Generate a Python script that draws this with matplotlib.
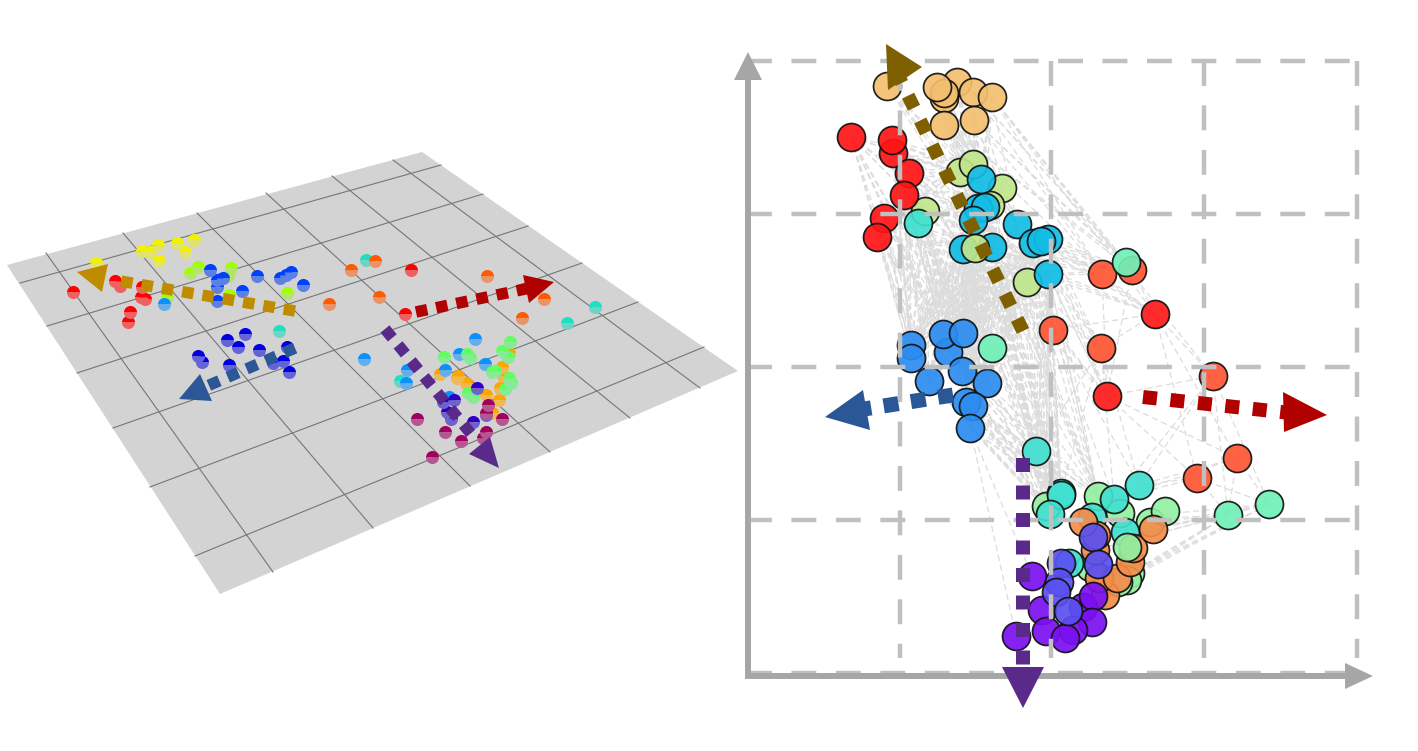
import itertools
import matplotlib
matplotlib.use('Agg')
import matplotlib.pyplot as plt
from matplotlib.patches import Polygon

# left panel, projected points (pixel positions)
l_red = [(73,292),(115,281),(120,286),(142,287),(141,297),(145,299),(130,312),(128,322),(411,270),(405,314)]
l_yellow = [(96,263),(142,251),(150,252),(158,245),(177,243),(194,240),(185,252),(159,261)]
l_lime = [(190,273),(198,267),(231,268),(228,276),(167,297),(229,295),(287,293)]
l_blue = [(210,270),(217,280),(223,278),(217,287),(257,276),(280,278),(286,275),(291,272),(242,291),(303,285),(217,301)]
l_sky = [(164,304),(364,359),(475,339),(459,354),(485,364),(445,370),(407,370),(406,383),(449,397)]
l_navy = [(227,340),(245,334),(238,347),(259,350),(287,347),(198,356),(202,362),(229,365),(273,363),(283,361),(289,372)]
l_teal = [(279,331),(366,260),(595,307),(567,323),(400,381)]
l_vermilion = [(351,270),(375,261),(379,297),(487,276),(544,299),(522,318),(329,304)]
l_green = [(444,357),(467,354),(470,358),(510,342),(502,351),(508,357),(492,372),(495,371),(509,378),(511,383),(505,389),(468,393),(473,397)]
l_orange = [(440,374),(458,376),(457,378),(466,383),(502,367),(509,353),(503,376),(500,388),(486,395),(499,400),(492,413)]
l_indigo = [(477,388),(454,400),(443,402),(447,412),(451,419),(473,422),(486,415)]
l_maroon = [(417,419),(445,432),(461,441),(432,457),(488,405),(486,413),(502,419),(486,432),(483,438)]

# right panel, embedded points
r_sand = [(887,86),(957,82),(973,92),(992,97),(944,98),(944,93),(937,87),(944,125),(974,120)]
r_red = [(851,137),(893,153),(892,140),(909,173),(904,195),(884,218),(877,237)]
r_pale = [(960,172),(973,164),(1002,188),(925,211),(990,205),(1027,282)]
r_cyan = [(981,179),(978,208),(985,207),(973,220),(1017,224),(1033,243),(1048,239),(1041,241),(963,249),(992,247),(1048,274)]
r_pale_top = [(975,248)]
r_coral = [(1102,274),(1132,270),(1053,330),(1101,348),(1213,376),(1237,458),(1197,478)]
r_scarlet = [(1155,314),(1107,396)]
r_mint = [(1126,262),(992,348),(1228,515),(1269,504)]
r_blue = [(911,345),(911,358),(948,352),(943,334),(963,333),(962,371),(929,381),(987,383),(966,402),(973,406),(970,428)]
r_teal = [(1036,451),(1061,493),(1061,495),(1092,517),(1125,532),(1050,514),(1139,485),(1114,499),(1069,563)]
r_green = [(1046,506),(1098,496),(1120,513),(1150,522),(1165,511),(1090,567),(1130,573),(1127,580),(1118,582)]
r_orange = [(1105,595),(1099,578),(1117,578),(1130,562),(1133,548),(1095,550),(1096,535),(1083,522),(1153,529)]
r_green_top = [(1127,547)]
r_indigo = [(1061,563),(1059,582),(1056,592),(1093,537),(1098,564)]
r_purple = [(1032,576),(1083,607),(1093,596),(1042,610),(1092,622),(1046,631),(1073,630),(1065,638),(1016,636)]
r_indigo_top = [(1068,611)]

link_groups = [(r_sand[2:4] + r_sand[7:], r_mint[:1] + r_coral[:2]),
               (r_sand[3:4], r_coral[4:5] + r_scarlet[:1]),
               (r_sand, r_cyan[:5]),
               (r_red, r_blue[:5]),
               (r_red, r_pale[:4]),
               (r_red, r_cyan[8:] + r_blue[5:8]),
               (r_pale, r_blue),
               (r_cyan, r_blue),
               (r_cyan[5:], r_coral[:4] + r_scarlet),
               (r_coral[:4], r_scarlet),
               (r_scarlet, r_coral[4:]),
               (r_coral[2:4], r_teal[:2] + r_teal[6:8]),
               (r_blue[5:], r_teal[:3] + r_teal[5:6] + r_green[:2]),
               (r_cyan, r_teal[:3] + r_teal[5:6] + r_green[:2]),
               (r_blue[-1:], r_purple[-1:] + r_purple[:1]),
               (r_coral[4:], r_teal[6:8] + r_mint[2:]),
               (r_mint[2:], r_orange[5:] + r_green[6:]),
               (r_mint[1:2], r_teal[:3] + r_green[:2])]

plane_xs = [7, 422, 738, 220]
plane_ys = [265, 152, 371, 594]
plane_lines_a = [((20,283),(441,165)), ((47,326),(483,194)), ((77,373),(528,226)),
                 ((113,428),(582,263)), ((150,487),(638,302)), ((195,556),(704,347))]
plane_lines_b = [((46,253),(273,572)), ((123,233),(373,528)), ((197,213),(470,486)),
                 ((266,193),(550,452)), ((332,176),(630,418)), ((393,160),(700,388))]

grid_ys = [61, 214, 367, 520, 673]
grid_xs = [900, 1051, 1204, 1357]
grid_starts = [66, 61, 61, 61]


def dotted_arrow(ax, xs, ys, head, color, width=11.5, period=20.6):
    gap = (period - width) / width
    ax.plot(xs, ys, color=color, lw=width*0.72, dash_capstyle='butt',
            linestyle=(0, (1, gap)), zorder=8)
    ax.add_patch(Polygon(head, closed=True, fc=color, ec='none', zorder=9))


def balls(ax, pts, color, alt):
    xs, ys = zip(*pts)
    ax.plot(xs, ys, ls='none', marker='o', ms=9.4, mew=0, fillstyle='top', color=color,
            markerfacecoloralt=alt, zorder=4)


def discs(ax, pts, color, z=5):
    xs, ys = zip(*pts)
    ax.scatter(xs, ys, s=405, c=color, alpha=0.92, edgecolors='#101010', linewidths=1.25, zorder=z)


fig = plt.figure(figsize=(14.18, 7.51), dpi=100)
ax = fig.add_axes([0, 0, 1, 1])
ax.set_xlim(0, 1418)
ax.set_ylim(751, 0)
ax.axis('off')

# left panel
ax.fill(plane_xs, plane_ys, color='#d3d3d3', lw=0, zorder=1)
for p, q in plane_lines_a + plane_lines_b:
    ax.plot([p[0], q[0]], [p[1], q[1]], color='#767676', lw=0.8, zorder=2)

balls(ax, l_red, '#ff0000', '#f06060')
balls(ax, l_yellow, '#f2f200', '#e2e270')
balls(ax, l_lime, '#a0ff00', '#b4e470')
balls(ax, l_blue, '#0040ff', '#5c80e4')
balls(ax, l_navy, '#0000e0', '#6464d8')
balls(ax, l_teal, '#20dfc0', '#70d2c4')
balls(ax, l_vermilion, '#ff5a00', '#e8946a')
balls(ax, l_orange, '#ffa500', '#f0b850')
balls(ax, l_sky, '#0a90ff', '#64aeec')
balls(ax, l_green, '#60ff60', '#88ea98')
balls(ax, l_indigo, '#3000c0', '#6e62cc')
balls(ax, l_maroon, '#a0005f', '#b45690')

dotted_arrow(ax, [295, 120], [311, 281], [(77,272),(108,264),(102,292)], '#bf8c00')
dotted_arrow(ax, [416, 530], [312, 288], [(523,275),(554,282),(529,303)], '#b00000')
dotted_arrow(ax, [295, 205], [348, 387], [(179,399),(200,374),(212,401)], '#2b5797')
dotted_arrow(ax, [385, 472], [329, 435], [(469,454),(490,437),(499,468)], '#5a2a8a')

# right panel, links under everything
for group_a, group_b in link_groups:
    for p, q in itertools.product(group_a, group_b):
        ax.plot([p[0], q[0]], [p[1], q[1]], color='#dcdcdc', lw=0.9, ls=(0, (5, 3)), zorder=3)

discs(ax, r_sand, '#f2bf6e')
discs(ax, r_pale, '#bfe68a')
discs(ax, r_red, '#ff1414')
discs(ax, r_cyan, '#12bde6')
discs(ax, r_pale_top, '#bfe68a')
discs(ax, [(918,223)], '#40e0d0')
discs(ax, r_coral, '#ff5533')
discs(ax, r_scarlet, '#ff1a1a')
discs(ax, r_mint, '#70f0b8')
discs(ax, r_blue, '#2b8cf0')
discs(ax, r_green, '#92f0a0')
discs(ax, r_teal, '#40e0d0')
discs(ax, r_orange, '#f58c4a')
discs(ax, r_green_top, '#92f0a0')
discs(ax, r_purple, '#7a10f0')
discs(ax, r_indigo, '#5a50f0')
discs(ax, r_indigo_top, '#5a50f0')

# dashed frame grid over the discs
for y in grid_ys:
    ax.plot([747, 1359], [y, y], color='#c0c0c0', lw=3.2, ls=(0, (5.6, 4.4)), dash_capstyle='butt', zorder=6)
for x, start in zip(grid_xs, grid_starts):
    ax.plot([x, x], [start, 658], color='#c0c0c0', lw=3.2, ls=(0, (5.6, 4.4)), dash_capstyle='butt', zorder=6)

# axes with heads
ax.plot([748, 748], [676, 78], color='#a6a6a6', lw=4.3, solid_capstyle='butt', zorder=7)
ax.plot([745, 1348], [676, 676], color='#a6a6a6', lw=4.3, solid_capstyle='butt', zorder=7)
ax.add_patch(Polygon([(748,52),(734,80),(762,80)], fc='#a6a6a6', ec='none', zorder=7))
ax.add_patch(Polygon([(1373,676),(1345,663),(1345,689)], fc='#a6a6a6', ec='none', zorder=7))

dotted_arrow(ax, [1023, 898], [331, 75], [(886,44),(922,67),(888,90)], '#7f6000', width=13.5, period=27.6)
dotted_arrow(ax, [1143, 1300], [397, 414], [(1283,392),(1327,415),(1284,432)], '#b00000', width=14, period=27.6)
dotted_arrow(ax, [953, 845], [395, 412], [(825,417),(863,390),(870,430)], '#2b5797', width=15, period=27.6)
dotted_arrow(ax, [1023, 1023], [458, 680], [(1002,667),(1044,667),(1023,708)], '#5a2a8a', width=14, period=27.5)

fig.savefig('out.png', dpi=100)
